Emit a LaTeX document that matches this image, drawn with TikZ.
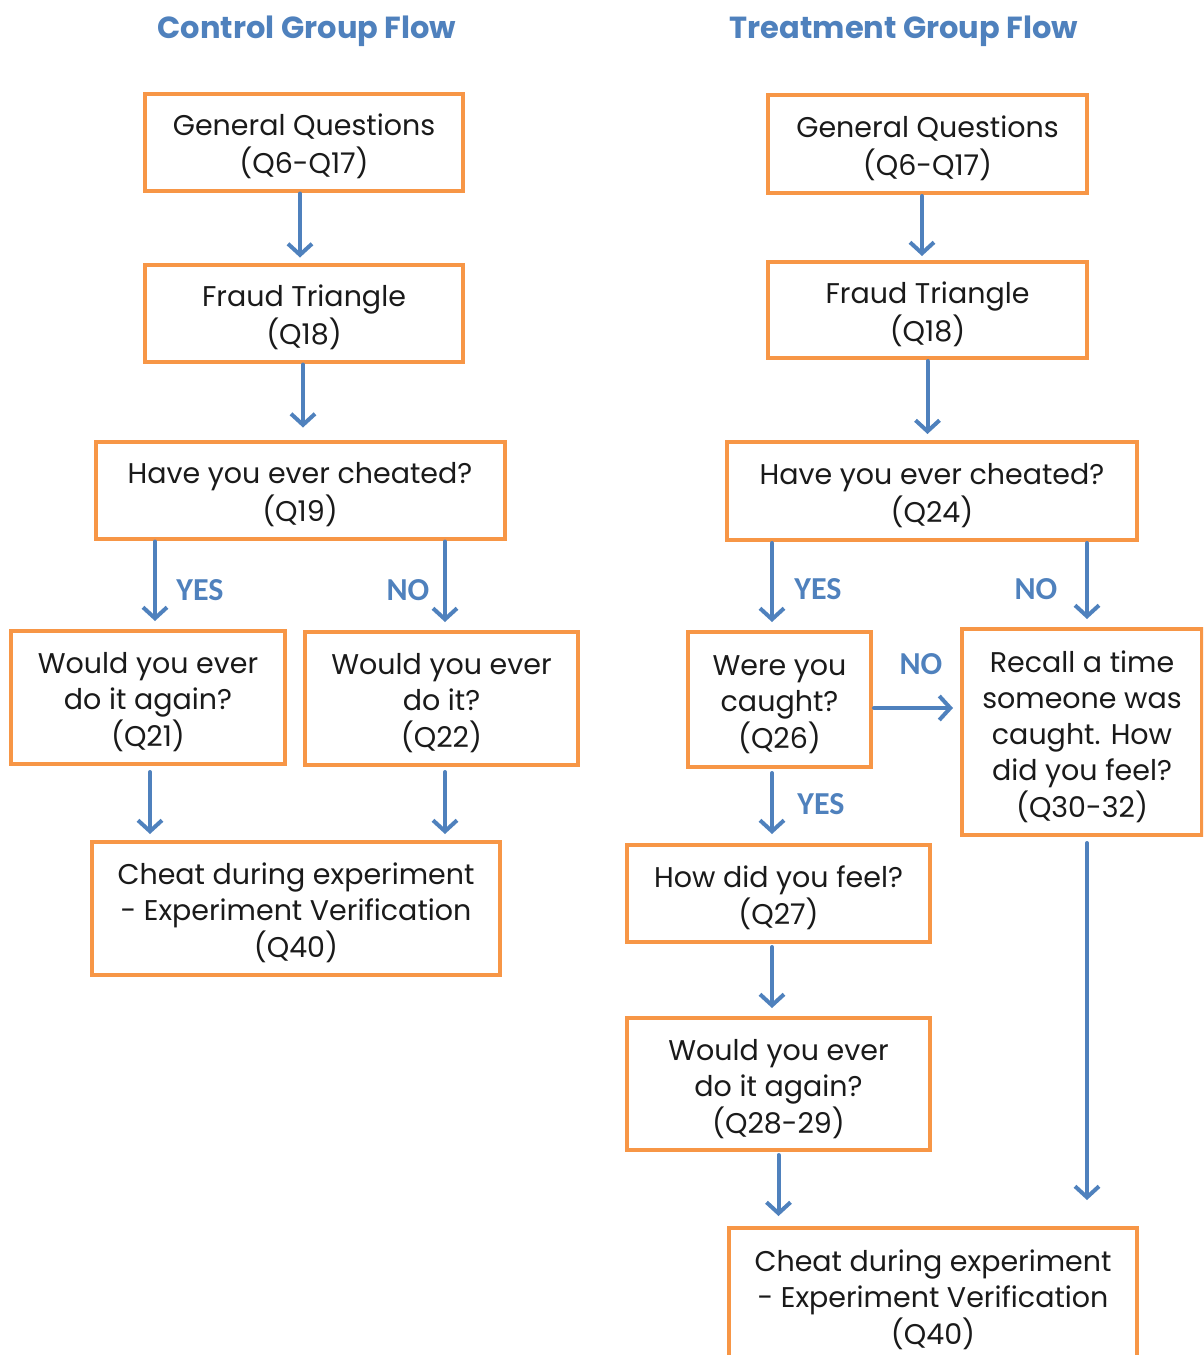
\documentclass[tikz,border=0pt]{standalone}
\usepackage{fontspec}
\setmainfont{Poppins}
\newfontfamily\lblfont{Carlito}
\usetikzlibrary{arrows.meta}
\definecolor{boxorange}{HTML}{F79646}
\definecolor{flowblue}{HTML}{4F81BD}
\definecolor{textdark}{HTML}{1A1A1A}
\newcommand\boxtext[1]{\raisebox{-5.5pt}[\height][\depth]{\begin{tabular}{@{}c@{}}#1\end{tabular}}}
\begin{document}
\begin{tikzpicture}[x=1pt,y=-1pt,
 box/.style={draw=boxorange,line width=4pt,fill=white,inner sep=0pt,text=textdark,font=\fontsize{28.5}{36}\selectfont},
 arr/.style={draw=flowblue,line width=4pt,line cap=round,-{Straight Barb[length=11pt,width=24pt]},shorten >=8pt,shorten <=1pt},
 lbl/.style={text=flowblue,font=\lblfont\bfseries\fontsize{32}{36}\selectfont},
 ttl/.style={text=flowblue,font=\bfseries\fontsize{30.5}{36}\selectfont}]
\useasboundingbox (0,0) rectangle (1203,1355);
\clip (0,0) rectangle (1203,1355);
% titles
\node[ttl] (ctitle) at (307,31) {Control Group Flow};
\node[ttl] (ttitle) at (904,31) {Treatment Group Flow};
% control boxes
\node[box,minimum width=318pt,minimum height=97pt] (cgq) at (304,142) {\boxtext{General Questions\\(Q6-Q17)}};
\node[box,minimum width=318pt,minimum height=97pt] (cft) at (304,313) {\boxtext{Fraud Triangle\\(Q18)}};
\node[box,minimum width=409pt,minimum height=97pt] (chc) at (300,490) {\boxtext{Have you ever cheated?\\(Q19)}};
\node[box,minimum width=274pt,minimum height=133pt] (cwa) at (148,697.5) {\boxtext{Would you ever\\do it again?\\(Q21)}};
\node[box,minimum width=273pt,minimum height=133pt] (cwd) at (441.5,698.5) {\boxtext{Would you ever\\do it?\\(Q22)}};
\node[box,minimum width=408pt,minimum height=133pt] (cch) at (296,908.5) {\boxtext{Cheat during experiment\\- Experiment Verification\\(Q40)}};
% treatment boxes
\node[box,minimum width=319pt,minimum height=98pt] (tgq) at (927.5,144) {\boxtext{General Questions\\(Q6-Q17)}};
\node[box,minimum width=319pt,minimum height=96pt] (tft) at (927.5,310) {\boxtext{Fraud Triangle\\(Q18)}};
\node[box,minimum width=410pt,minimum height=98pt] (thc) at (932,491) {\boxtext{Have you ever cheated?\\(Q24)}};
\node[box,minimum width=183pt,minimum height=135pt] (twc) at (779.5,699.5) {\boxtext{Were you\\caught?\\(Q26)}};
\node[box,minimum width=240pt,minimum height=206pt] (trc) at (1082,732) {\boxtext{Recall a time\\someone was\\caught. How\\did you feel?\\(Q30-32)}};
\node[box,minimum width=303pt,minimum height=97pt] (thf) at (778.5,893.5) {\boxtext{How did you feel?\\(Q27)}};
\node[box,minimum width=303pt,minimum height=132pt] (twa) at (778.5,1084) {\boxtext{Would you ever\\do it again?\\(Q28-29)}};
\node[box,minimum width=408pt,minimum height=134pt] (tch) at (933,1295) {\boxtext{Cheat during experiment\\- Experiment Verification\\(Q40)}};
% control arrows
\draw[arr,shorten >=5pt] ([xshift=-4pt]cgq.south) -- ([xshift=-4pt]cgq.south |- cft.north);
\draw[arr,shorten >=12pt] ([xshift=-1pt]cft.south) -- ([xshift=-1pt]cft.south |- chc.north);
\draw[arr] ([xshift=-145pt]chc.south) -- ([xshift=-145pt]chc.south |- cwa.north);
\draw[arr] ([xshift=145pt]chc.south) -- ([xshift=145pt]chc.south |- cwd.north);
\draw[arr,shorten <=6pt,shorten >=6pt] ([xshift=2pt]cwa.south) -- ([xshift=2pt]cwa.south |- cch.north);
\draw[arr,shorten <=5pt,shorten >=6pt] ([xshift=3.5pt]cwd.south) -- ([xshift=3.5pt]cwd.south |- cch.north);
\node[lbl] (cyes) at (200,590) {YES};
\node[lbl] (cno) at (408,590) {NO};
% treatment arrows
\draw[arr,shorten >=4pt] ([xshift=-5.5pt]tgq.south) -- ([xshift=-5.5pt]tgq.south |- tft.north);
\draw[arr,shorten >=6pt] (tft.south) -- (tft.south |- thc.north);
\draw[arr] ([xshift=-160pt]thc.south) -- ([xshift=-160pt]thc.south |- twc.north);
\draw[arr] ([xshift=155pt]thc.south) -- ([xshift=155pt]thc.south |- trc.north);
\draw[arr,shorten >=7pt] ([yshift=-8.5pt]twc.east) -- ([yshift=-8.5pt]twc.east -| trc.west);
\draw[arr,shorten <=4pt,shorten >=9pt] ([xshift=-7.5pt]twc.south) -- ([xshift=-7.5pt]twc.south |- thf.north);
\draw[arr,shorten <=3pt,shorten >=8pt] ([xshift=-6.5pt]thf.south) -- ([xshift=-6.5pt]thf.south |- twa.north);
\draw[arr,shorten <=3pt,shorten >=10pt] (twa.south) -- (twa.south |- tch.north);
\draw[arr,shorten <=6pt,shorten >=26pt] ([xshift=5pt]trc.south) -- ([xshift=5pt]trc.south |- tch.north);
\node[lbl] (tyes1) at (818,589) {YES};
\node[lbl] (tno1) at (1036,589) {NO};
\node[lbl] (tno2) at (921,664) {NO};
\node[lbl] (tyes2) at (821,804) {YES};
\end{tikzpicture}
\end{document}
